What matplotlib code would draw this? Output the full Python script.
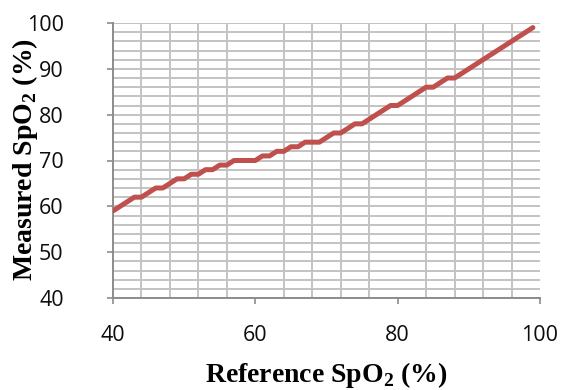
import matplotlib
matplotlib.use("Agg")
import matplotlib.pyplot as plt
from matplotlib.ticker import MultipleLocator

reference = list(range(40, 100))
measured = [59, 60, 61, 62, 62, 63, 64, 64, 65, 66,
            66, 67, 67, 68, 68, 69, 69, 70, 70, 70,
            70, 71, 71, 72, 72, 73, 73, 74, 74, 74,
            75, 76, 76, 77, 78, 78, 79, 80, 81, 82,
            82, 83, 84, 85, 86, 86, 87, 88, 88, 89,
            90, 91, 92, 93, 94, 95, 96, 97, 98, 99]
x_ticks = [40, 60, 80, 100]
y_ticks = [40, 50, 60, 70, 80, 90, 100]

plt.rcParams['mathtext.fontset'] = 'custom'
plt.rcParams['mathtext.rm'] = 'Liberation Serif:bold'
plt.rcParams['mathtext.bf'] = 'Liberation Serif:bold'

W, H = 562, 390
x0, x1, y_top, y_bot = 113, 540, 23, 298
fig = plt.figure(figsize=(W/100, H/100), dpi=100)
ax = fig.add_axes([x0/W, (H-y_bot)/H, (x1-x0)/W, (y_bot-y_top)/H])

ax.plot(reference, measured, color='#C0504D', lw=3.6, solid_capstyle='round', zorder=3)

ax.set_xlim(40, 100)
ax.set_ylim(40, 100)
ax.set_xticks(x_ticks)
ax.set_yticks(y_ticks)
ax.xaxis.set_minor_locator(MultipleLocator(4))
ax.yaxis.set_minor_locator(MultipleLocator(2))
ax.grid(which='minor', axis='both', color='#C3C3C3', lw=1.4)
ax.grid(which='major', axis='y', color='#C3C3C3', lw=1.4)
ax.set_axisbelow(True)

for s in ['top', 'right']:
    ax.spines[s].set_visible(False)
for s in ['left', 'bottom']:
    ax.spines[s].set_color('#8C8C8C')
    ax.spines[s].set_linewidth(1.4)

ax.tick_params(which='major', direction='out', length=4.5, width=1.2, color='#8C8C8C',
               labelsize=15.5, labelcolor='#0d0d0d')
ax.tick_params(which='minor', length=0)
ax.tick_params(axis='y', pad=31)
ax.tick_params(axis='x', pad=15)
for lab in ax.get_xticklabels() + ax.get_yticklabels():
    lab.set_family('Open Sans')

ax.set_xlabel(r'Reference SpO$_2$ (%)', family='Liberation Serif', fontweight='bold',
              fontsize=20)
ax.set_ylabel(r'Measured SpO$_2$ (%)', family='Liberation Serif', fontweight='bold',
              fontsize=20)
ax.xaxis.label.set_va('center')
ax.xaxis.set_label_coords(((x0+x1)/2 - x0)/(x1-x0), (y_bot-375)/(y_bot-y_top))
ax.yaxis.label.set_va('center')
ax.yaxis.set_label_coords((25-x0)/(x1-x0), (y_bot-160)/(y_bot-y_top))

fig.savefig('out.png', dpi=100)
